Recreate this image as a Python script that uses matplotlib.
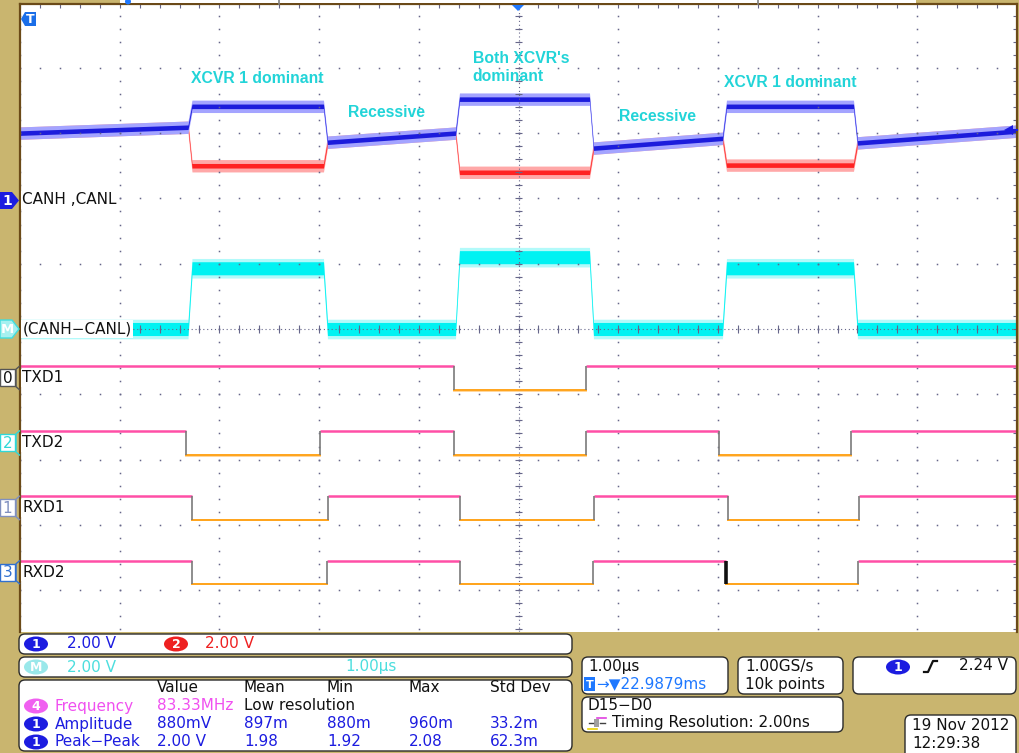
import numpy as np
import matplotlib.pyplot as plt
from matplotlib.patches import FancyBboxPatch, Ellipse, Polygon, Rectangle

# ------------------------------
# 1. values (time in us, level in divisions)
# ------------------------------
dom_start = [-3.315, -0.632, 2.046]
dom_end = [-1.956, 0.712, 3.36]
canh_dom = [3.41, 3.52, 3.41]
canl_dom = [2.50, 2.40, 2.51]
rec_start = [3.00, 2.86, 2.77, 2.85]     # recessive level at start of each idle stretch
rec_end = [3.09, 3.00, 2.92, 3.03]       # ... and at its end
diff_dom = [0.93, 1.10, 0.93]
diff_rec = 0.0

dig_names = ["TXD1", "TXD2", "RXD1", "RXD2"]
dig_tags = ["0", "2", "1", "3"]
dig_low = [-0.93, -1.93, -2.92, -3.90]
dig_high = [-0.57, -1.56, -2.56, -3.55]
dig_lows = [
    [(-0.642, 0.682)],
    [(-3.33, -1.99), (-0.65, 0.68), (2.01, 3.34)],
    [(-3.27, -1.91), (-0.59, 0.76), (2.10, 3.42)],
    [(-3.27, -1.92), (-0.59, 0.75), (2.08, 3.41)],
]
marked_edge = (3, 2.08)   # RXD2 falling edge drawn in black

notes = [("XCVR 1 dominant", -2.62, 3.83, "center"),
         ("Recessive", -1.32, 3.32, "center"),
         ("Both XCVR's", -0.46, 4.15, "left"),
         ("dominant", -0.46, 3.86, "left"),
         ("Recessive", 1.39, 3.26, "center"),
         ("XCVR 1 dominant", 2.73, 3.78, "center")]

meas_cols = ["Value", "Mean", "Min", "Max", "Std Dev"]
amp_vals = ["880mV", "897m", "880m", "960m", "33.2m"]
pk_vals = ["2.00 V", "1.98", "1.92", "2.08", "62.3m"]

# ------------------------------
# 2. colours / layout
# ------------------------------
TAN = '#c9b56f'
BROWN = '#6b4a18'
GRID = '#66668a'
PINK = '#ff4fa6'
ORANGE = '#ffa41c'
CYAN_TXT = '#22d4d8'
BLUE = '#1c1ce0'
LBLUE = '#1e78ff'
EDGE = 0.04

W, H = 1019, 753
X0, X1 = 20, 1017
YC, PXDIV = 329, 65.3
Y_TOP, Y_BOT = 4, 632

fig = plt.figure(figsize=(W / 100, H / 100), dpi=100, facecolor=TAN)
ax = fig.add_axes([X0 / W, 1 - Y_BOT / H, (X1 - X0) / W, (Y_BOT - Y_TOP) / H])
ax.set_xlim(-5, 5)
ax.set_ylim((YC - Y_BOT) / PXDIV, (YC - Y_TOP) / PXDIV)
ax.set_facecolor('white')
ax.set_xticks([])
ax.set_yticks([])
for side in ['left', 'top', 'right']:
    ax.spines[side].set_color(BROWN)
    ax.spines[side].set_linewidth(1.6)
ax.spines['bottom'].set_visible(False)

# ------------------------------
# 3. graticule
# ------------------------------
minor = np.arange(-5, 5.001, 0.2)
for g in range(-5, 6):
    ax.plot(np.full_like(minor, g), minor, ls='none', marker='s', ms=1.1, mew=0, color=GRID)
    ax.plot(minor, np.full_like(minor, g), ls='none', marker='s', ms=1.1, mew=0, color=GRID)
ax.axhline(0, color=GRID, lw=0.8, ls=(0, (1, 2.5)))
ax.axvline(0, color=GRID, lw=0.8, ls=(0, (1, 2.5)))
ax.vlines(minor, -0.06, 0.06, color=GRID, lw=0.8)
ax.hlines(minor, -0.04, 0.04, color=GRID, lw=0.8)
ax.vlines(minor, 4.92, 5.0, color=GRID, lw=0.8)
ax.hlines(minor, 4.96, 5.0, color=GRID, lw=0.8)


# ------------------------------
# 4. traces
# ------------------------------
def bus_path(levels, rs, re):
    t, v = [-5.0], [rs[0]]
    for i in range(len(levels)):
        t += [dom_start[i], dom_start[i] + EDGE, dom_end[i], dom_end[i] + EDGE]
        v += [re[i], levels[i], levels[i], rs[i + 1]]
    t.append(5.0)
    v.append(re[-1])
    return np.array(t), np.array(v)


for lev, fringe, core in [(canl_dom, '#ffa8a8', '#ff2222'), (canh_dom, '#a4a4ff', '#1c1cdc')]:
    t, v = bus_path(lev, rec_start, rec_end)
    ax.fill_between(t, v - 0.095, v + 0.095, color=fringe, lw=0)
    ax.fill_between(t, v - 0.035, v + 0.035, color=core, lw=0)

flat = [diff_rec] * 4
t, v = bus_path(diff_dom, flat, flat)
ax.fill_between(t, v - 0.15, v + 0.15, color='#00f0f0', alpha=0.3, lw=0)
ax.fill_between(t, v - 0.1, v + 0.1, color='#00f2f2', lw=0)

for k, lows in enumerate(dig_lows):
    lo, hi = dig_low[k], dig_high[k]
    bounds = [-5.0] + [x for p in lows for x in p] + [5.0]
    for a, b in zip(bounds[0::2], bounds[1::2]):
        ax.plot([a, b], [hi, hi], color=PINK, lw=1.8, solid_capstyle='butt')
    for a, b in lows:
        ax.plot([a, b], [lo - 0.012, lo - 0.012], color='#ffd59a', lw=1.4)
        ax.plot([a, b], [lo, lo], color=ORANGE, lw=1.4)
        ax.vlines([a, b], lo, hi, color='#7a7a7a', lw=1.2)
ch, te = marked_edge
ax.vlines(te, dig_low[ch], dig_high[ch], color='#111111', lw=2.6)

# labels on the screen
lab = dict(fontsize=11, color='#111111', va='center', ha='left',
           bbox=dict(facecolor='white', edgecolor='none', pad=1))
ax.text(-4.975, (YC - 200) / PXDIV, "CANH ,CANL", **lab)
ax.text(-4.975, diff_rec, "(CANH\u2212CANL)", **lab)
for k, name in enumerate(dig_names):
    ax.text(-4.975, (dig_low[k] + dig_high[k]) / 2, name, **lab)
for s, x, y, ha in notes:
    ax.text(x, y, s, color=CYAN_TXT, fontsize=11.3, fontweight='bold',
            family='Liberation Sans', ha=ha, va='center')

# ------------------------------
# 5. overlay in pixel units: markers and readouts
# ------------------------------
ov = fig.add_axes([0, 0, 1, 1], zorder=5)
ov.set_xlim(0, W)
ov.set_ylim(H, 0)
ov.axis('off')


def ypx(d):
    return YC - d * PXDIV


# top strip
ov.add_patch(Rectangle((120, 0), 796, 3.2, fc='white', ec='none'))
ov.add_patch(Ellipse((128, 1.5), 6, 6, fc=LBLUE, ec='none'))
for gx in [279, 758]:
    ov.plot([gx, gx], [0, 3.5], color='#808080', lw=1.2)
ov.add_patch(Polygon([(512, 5), (524, 5), (518, 11)], fc=LBLUE, ec='none'))

# trigger marker top-left
ov.add_patch(Polygon([(21, 19), (25, 12), (36, 12), (36, 26), (25, 26)], fc='#1a6ee8', ec='none'))
ov.text(30.5, 19.5, "T", color='white', fontsize=9, fontweight='bold', ha='center', va='center')

# trigger level arrow right
ov.add_patch(Polygon([(1004, 130), (1013, 125), (1013, 135)], fc=BLUE, ec='none'))
ov.plot([1008, 1017], [130, 130], color=BLUE, lw=1.5)

# channel 1 and math markers
ov.add_patch(Polygon([(0, 192), (12, 192), (19, 200.5), (12, 209), (0, 209)], fc=BLUE, ec='none'))
ov.text(7.5, 201, "1", color='white', fontsize=10, fontweight='bold', ha='center', va='center')
ov.add_patch(Polygon([(0, 320), (12, 320), (19, 329), (12, 338), (0, 338)], fc='#a6f0f0', ec='#40dede', lw=1))
ov.text(7.5, 329.5, "M", color='white', fontsize=9.5, fontweight='bold', ha='center', va='center')

# digital channel markers
tag_col = ['#555555', '#30d8d8', '#8090c0', '#3070d0']
for k, tag in enumerate(dig_tags):
    hi, lo = ypx(dig_high[k]), ypx(dig_low[k])
    yc = (hi + lo) / 2
    ov.add_patch(Rectangle((0, yc - 8.5), 15, 17, fc='white', ec=tag_col[k], lw=1))
    ov.plot([19.5, 16, 16, 19.5], [hi, hi + 3, lo - 3, lo], color=tag_col[k], lw=1)
    ov.text(7.5, yc + 0.5, tag, color='#111111' if k == 0 else tag_col[k], fontsize=11,
            ha='center', va='center')


def box(x0, y0, x1, y1):
    ov.add_patch(FancyBboxPatch((x0, y0), x1 - x0, y1 - y0,
                                boxstyle='round,pad=0,rounding_size=6',
                                fc='white', ec='#2a2a2a', lw=1))


def pill(x, y, txt, fc):
    ov.add_patch(Ellipse((x, y), 24, 15, fc=fc, ec='none'))
    ov.text(x, y + 0.5, txt, color='white', fontsize=9, fontweight='bold', ha='center', va='center')


def txt(x, y, s, c='#111111', ha='left'):
    ov.text(x, y, s, color=c, fontsize=11, ha=ha, va='center')


# channel scale boxes
box(19, 634, 572, 654)
pill(36, 644, "1", BLUE)
txt(67, 644, "2.00 V", BLUE)
pill(176, 644, "2", '#ee2020')
txt(205, 644, "2.00 V", '#ee2020')

box(19, 657, 572, 677)
pill(36, 667, "M", '#9ae8ea')
txt(67, 667, "2.00 V", '#4cdede')
txt(345, 667, "1.00\u00b5s", '#4cdede')

# measurement table
box(19, 680, 572, 751)
col_x = [157, 244, 327, 409, 490]
for x, s in zip(col_x, meas_cols):
    txt(x, 688, s)
pill(36, 706, "4", '#f060f0')
txt(55, 706, "Frequency", '#f050f0')
txt(157, 706, "83.33MHz", '#f050f0')
txt(244, 706, "Low resolution")
for row_y, name, vals in [(724, "Amplitude", amp_vals), (742, "Peak\u2212Peak", pk_vals)]:
    pill(36, row_y, "1", BLUE)
    txt(55, row_y, name, BLUE)
    for x, s in zip(col_x, vals):
        txt(x, row_y, s, BLUE)

# timebase / acquisition / trigger boxes
box(582, 657, 728, 694)
txt(588, 666, "1.00\u00b5s")
ov.add_patch(Rectangle((584, 677), 11, 14, fc=LBLUE, ec='none'))
ov.text(589.5, 684.5, "T", color='white', fontsize=8, fontweight='bold', ha='center', va='center')
txt(596, 684, "\u2192\u25bc22.9879ms", LBLUE)

box(738, 657, 843, 694)
txt(745, 666, "1.00GS/s")
txt(745, 684, "10k points")

box(853, 657, 1016, 694)
pill(898, 667, "1", BLUE)
ov.plot([924, 928, 933, 937], [672, 672, 661, 661], color='#111111', lw=1.6)
txt(1008, 666, "2.24 V", ha='right')

box(582, 697, 843, 732)
txt(588, 706, "D15\u2212D0")
ov.plot([597, 606], [718, 718], color='#e040e0', lw=1.2)
ov.plot([588, 597], [729, 729], color='#e8d000', lw=1.2)
ov.add_patch(Rectangle((594, 719), 5, 8, fc='#a0a0a0', ec='none'))
ov.plot([589, 593], [723, 723], color='#404040', lw=1)
ov.plot([600, 605], [723, 723], color='#404040', lw=1)
txt(612, 723, "Timing Resolution: 2.00ns")

box(905, 715, 1016, 760)
txt(912, 726, "19 Nov 2012")
txt(912, 743, "12:29:38")

fig.savefig("out.png", dpi=100, facecolor=TAN)
